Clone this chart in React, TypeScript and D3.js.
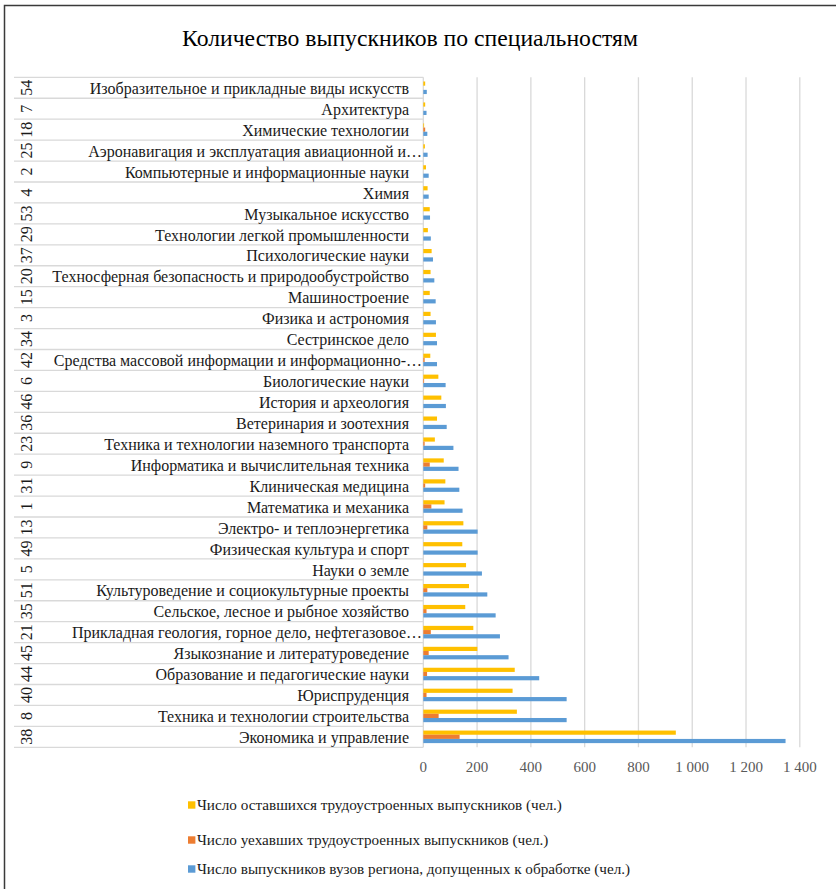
import * as React from 'react';
import { scaleLinear, scaleBand, range } from 'd3';

// categories top to bottom, as the chart shows them
const codes = ['54', '7', '18', '25', '2', '4', '53', '29', '37', '20', '15', '3', '34', '42', '6', '46',
  '36', '23', '9', '31', '1', '13', '49', '5', '51', '35', '21', '45', '44', '40', '8', '38'];

const names = [
  'Изобразительное и прикладные виды искусств',
  'Архитектура',
  'Химические технологии',
  'Аэронавигация и эксплуатация авиационной и…',
  'Компьютерные и информационные науки',
  'Химия',
  'Музыкальное искусство',
  'Технологии легкой промышленности',
  'Психологические науки',
  'Техносферная безопасность и природообустройство',
  'Машиностроение',
  'Физика и астрономия',
  'Сестринское дело',
  'Средства массовой информации и информационно-…',
  'Биологические науки',
  'История и археология',
  'Ветеринария и зоотехния',
  'Техника и технологии наземного транспорта',
  'Информатика и вычислительная техника',
  'Клиническая медицина',
  'Математика и механика',
  'Электро- и теплоэнергетика',
  'Физическая культура и спорт',
  'Науки о земле',
  'Культуроведение и социокультурные проекты',
  'Сельское, лесное и рыбное хозяйство',
  'Прикладная геология, горное дело, нефтегазовое…',
  'Языкознание и литературоведение',
  'Образование и педагогические науки',
  'Юриспруденция',
  'Техника и технологии строительства',
  'Экономика и управление',
];

const stayed = [7, 7, 3, 6, 10, 16, 24, 17, 31, 27, 24, 27, 47, 26, 56, 67,
  51, 43, 76, 82, 79, 149, 145, 159, 170, 156, 186, 201, 340, 332, 348, 939];
const left = [0, 0, 7, 0, 0, 0, 0, 0, 0, 0, 0, 0, 0, 5, 3, 0,
  0, 5, 24, 7, 30, 15, 0, 0, 15, 12, 28, 20, 14, 12, 57, 135];
const total = [13, 12, 15, 16, 20, 20, 25, 28, 36, 41, 46, 47, 51, 51, 83, 84,
  87, 112, 131, 134, 146, 202, 202, 218, 238, 269, 285, 317, 431, 533, 533, 1347];

const seriesKeys = ['stayed', 'left', 'total'];
const seriesNames = [
  'Число оставшихся трудоустроенных выпускников (чел.)',
  'Число уехавших трудоустроенных выпускников (чел.)',
  'Число выпускников вузов региона, допущенных к обработке (чел.)',
];
const seriesColors = ['#FFC000', '#ED7D31', '#5B9BD5'];
const xTicks = [0, 200, 400, 600, 800, 1000, 1200, 1400];

const W = 836, H = 889;
const FONT = "'Liberation Serif', 'DejaVu Serif', serif";

const fmt = (v: number) => String(v).replace(/\B(?=(\d{3})+(?!\d))/g, ' ');

export default function App() {
  const values = [stayed, left, total];
  const x = scaleLinear().domain([0, 1400]).range([423.3, 799.8]);
  const y = scaleBand<number>().domain(range(names.length)).range([77.3, 747.3]).padding(0);
  const inner = scaleBand<string>().domain(seriesKeys).range([0, y.bandwidth()]).paddingInner(0).paddingOuter(1);
  const txt = { fontFamily: FONT };

  return (
    <svg width={W} height={H} style={{ position: 'absolute', left: 0, top: 0, display: 'block', background: '#fff' }}>
      <rect x={4.5} y={5.5} width={W + 20} height={H + 20} fill="#fff" stroke="#3a3a3a" strokeWidth={1.5} />

      <text x={410} y={46} textAnchor="middle" fontSize={23.7} fill="#000" style={txt}>
        Количество выпускников по специальностям
      </text>

      {/* gridlines */}
      {xTicks.map(t => (
        <line key={t} x1={x(t)} x2={x(t)} y1={77.3} y2={747.3} stroke="#d9d9d9" strokeWidth={1.3} />
      ))}

      {/* category table lines */}
      {range(names.length + 1).map(i => {
        const yy = i < names.length ? y(i)! : y(names.length - 1)! + y.bandwidth();
        return <line key={i} x1={14} x2={423.3} y1={yy} y2={yy} stroke="#d9d9d9" strokeWidth={1.3} />;
      })}

      {names.map((n, i) => {
        const cy = y(i)! + y.bandwidth() / 2;
        const cut = n.endsWith('…');
        return (
          <g key={n}>
            <text x={cut ? 422 : 409} y={cy + 6.2} textAnchor="end" fontSize={16} fill="#1a1a1a" style={txt}>{n}</text>
            <text transform={`translate(31.5,${cy}) rotate(-90)`} textAnchor="middle" fontSize={16} fill="#1a1a1a" style={txt}>
              {codes[i]}
            </text>
          </g>
        );
      })}

      {/* bars */}
      {values.map((vals, s) => (
        <g key={seriesKeys[s]} fill={seriesColors[s]}>
          {vals.map((v, i) => v > 0 && (
            <rect key={i} x={x(0)} y={y(i)! + inner(seriesKeys[s])!} width={x(v) - x(0)} height={inner.bandwidth()} />
          ))}
        </g>
      ))}

      {xTicks.map(t => (
        <text key={t} x={x(t)} y={772} textAnchor="middle" fontSize={15} fill="#595959" style={txt}>{fmt(t)}</text>
      ))}

      {/* legend */}
      {seriesNames.map((n, s) => {
        const cy = [805, 840, 869][s];
        return (
          <g key={n}>
            <rect x={188} y={cy - 3.7} width={7.4} height={7.4} fill={seriesColors[s]} />
            <text x={197} y={cy + 5} fontSize={15.2} fill="#1a1a1a" style={txt}>{n}</text>
          </g>
        );
      })}
    </svg>
  );
}
